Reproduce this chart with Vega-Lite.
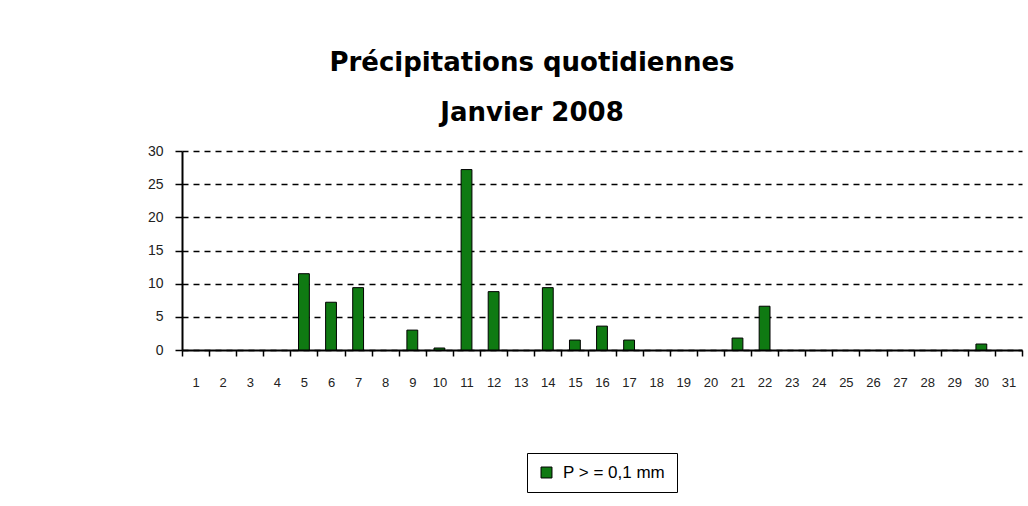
{
  "$schema": "https://vega.github.io/schema/vega-lite/v6.json",
  "width": 840,
  "height": 199,
  "autosize": "none",
  "padding": {"left": 182, "top": 151, "right": 6, "bottom": 156},
  "background": "white",
  "title": {
    "text": ["Précipitations quotidiennes", "Janvier 2008"],
    "font": "DejaVu Sans",
    "fontWeight": "bold",
    "fontSize": 26,
    "lineHeight": 50,
    "color": "black",
    "anchor": "middle",
    "dx": -70,
    "offset": 18
  },
  "data": {
    "values": [
      {"jour": "1", "p": 0}, {"jour": "2", "p": 0}, {"jour": "3", "p": 0}, {"jour": "4", "p": 0},
      {"jour": "5", "p": 11.5}, {"jour": "6", "p": 7.2}, {"jour": "7", "p": 9.4}, {"jour": "8", "p": 0},
      {"jour": "9", "p": 3.0}, {"jour": "10", "p": 0.3}, {"jour": "11", "p": 27.2}, {"jour": "12", "p": 8.8},
      {"jour": "13", "p": 0}, {"jour": "14", "p": 9.4}, {"jour": "15", "p": 1.5}, {"jour": "16", "p": 3.6},
      {"jour": "17", "p": 1.5}, {"jour": "18", "p": 0}, {"jour": "19", "p": 0}, {"jour": "20", "p": 0},
      {"jour": "21", "p": 1.8}, {"jour": "22", "p": 6.6}, {"jour": "23", "p": 0}, {"jour": "24", "p": 0},
      {"jour": "25", "p": 0}, {"jour": "26", "p": 0}, {"jour": "27", "p": 0}, {"jour": "28", "p": 0},
      {"jour": "29", "p": 0}, {"jour": "30", "p": 0.9}, {"jour": "31", "p": 0}
    ]
  },
  "transform": [{"filter": "datum.p > 0"}],
  "mark": {"type": "bar", "stroke": "black", "strokeWidth": 1, "width": {"band": 0.4}},
  "encoding": {
    "x": {
      "field": "jour",
      "type": "ordinal",
      "sort": null,
      "scale": {"domain": ["1","2","3","4","5","6","7","8","9","10","11","12","13","14","15","16","17","18","19","20","21","22","23","24","25","26","27","28","29","30","31"], "paddingInner": 0, "paddingOuter": 0},
      "axis": {
        "title": null,
        "labelAngle": 0,
        "labelFont": "Liberation Sans",
        "labelFontSize": 13,
        "labelColor": "#222",
        "labelPadding": 20,
        "tickBand": "extent",
        "tickColor": "black",
        "tickSize": 6,
        "tickWidth": 1.5,
        "domainColor": "black",
        "domainWidth": 2,
        "grid": false
      }
    },
    "y": {
      "field": "p",
      "type": "quantitative",
      "scale": {"domain": [0, 30], "nice": false},
      "axis": {
        "title": null,
        "values": [0, 5, 10, 15, 20, 25, 30],
        "labelFont": "Liberation Sans",
        "labelFontSize": 14,
        "labelColor": "#222",
        "labelPadding": 12,
        "tickColor": "black",
        "tickSize": 7,
        "tickWidth": 1.5,
        "domainColor": "black",
        "domainWidth": 2,
        "grid": true,
        "gridColor": "black",
        "gridDash": [6, 5],
        "gridWidth": 1.5
      }
    },
    "fill": {
      "datum": "P > = 0,1 mm",
      "type": "nominal",
      "scale": {"range": ["#0f7a12"]},
      "legend": {
        "title": null,
        "orient": "bottom",
        "offset": 64,
        "direction": "horizontal",
        "symbolType": "square",
        "symbolSize": 120,
        "symbolStrokeColor": "black",
        "symbolStrokeWidth": 1,
        "labelFont": "Liberation Sans",
        "labelFontSize": 17,
        "labelOffset": 8,
        "labelColor": "black",
        "strokeColor": "black",
        "fillColor": "white",
        "padding": 11
      }
    }
  },
  "config": {
    "view": {"stroke": null},
    "legend": {"layout": {"bottom": {"anchor": "middle"}}}
  }
}
